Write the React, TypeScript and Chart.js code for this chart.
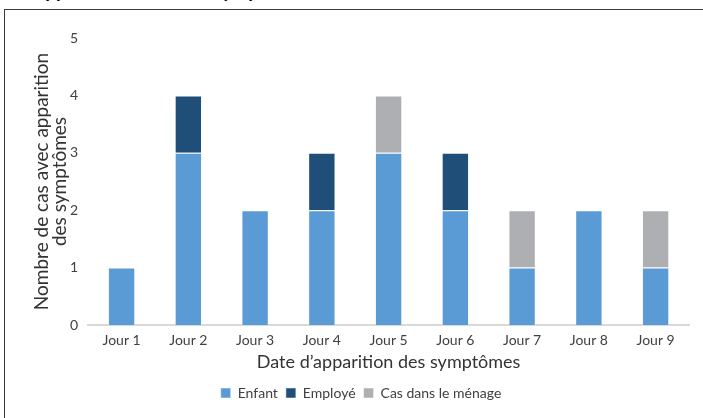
import React, { useEffect, useRef } from "react";
import { Chart, registerables } from "chart.js";

Chart.register(...registerables);

const categories = ["Jour 1", "Jour 2", "Jour 3", "Jour 4", "Jour 5", "Jour 6", "Jour 7", "Jour 8", "Jour 9"];
const enfant = [1, 3, 2, 2, 3, 2, 1, 2, 1];
const employe = [0, 1, 0, 1, 0, 1, 0, 0, 0];
const menage = [0, 0, 0, 0, 1, 0, 1, 0, 1];
const seriesNames = ["Enfant", "Employé", "Cas dans le ménage"];
const yTicks = [0, 1, 2, 3, 4, 5];

const FONT = "Lato, 'Open Sans', sans-serif";

export default function App() {
  const ref = useRef<HTMLCanvasElement | null>(null);

  useEffect(() => {
    if (!ref.current) return;
    const common = { borderColor: "rgba(255,255,255,0.5)", borderWidth: 1, categoryPercentage: 1, barPercentage: 0.41 };
    const chart = new Chart(ref.current, {
      type: "bar",
      data: {
        labels: categories,
        datasets: [
          { label: seriesNames[0], data: enfant, backgroundColor: "#5B9BD5", ...common },
          { label: seriesNames[1], data: employe, backgroundColor: "#1F4E79", ...common },
          { label: seriesNames[2], data: menage, backgroundColor: "#AEAFB2", ...common },
        ],
      },
      options: {
        animation: false,
        responsive: false,
        maintainAspectRatio: false,
        layout: { padding: { left: 33, right: 14, top: 38, bottom: 8 } },
        plugins: {
          legend: {
            position: "bottom",
            labels: {
              boxWidth: 10,
              boxHeight: 10,
              padding: 8,
              color: "#404040",
              font: { family: FONT, size: 14 },
            },
          },
          tooltip: { enabled: false },
        },
        scales: {
          x: {
            stacked: true,
            grid: { display: false, drawTicks: false },
            border: { color: "#d9d9d9", width: 2 },
            ticks: { color: "#404040", font: { family: FONT, size: 14, lineHeight: 1 }, padding: 8 },
            title: {
              display: true,
              text: "Date d’apparition des symptômes",
              color: "#333333",
              font: { family: FONT, size: 18, lineHeight: 1 },
              padding: { top: -2, bottom: 7 },
            },
          },
          y: {
            stacked: true,
            min: 0,
            max: 5,
            afterBuildTicks: (axis: any) => {
              axis.ticks = yTicks.map((v) => ({ value: v }));
            },
            grid: { display: false, drawTicks: false },
            border: { display: false },
            ticks: { color: "#404040", font: { family: FONT, size: 14 }, padding: 10 },
            title: {
              display: true,
              text: ["Nombre de cas avec apparition", "des symptômes"],
              color: "#333333",
              font: { family: FONT, size: 19, lineHeight: 0.95 },
              padding: { top: 0, bottom: -9 },
            },
          },
        },
      },
    });
    return () => chart.destroy();
  }, []);

  return (
    <div style={{ position: "fixed", left: 0, top: 0, width: 703, height: 418, background: "#fff", overflow: "hidden" }}>
      <div style={{ position: "absolute", left: 0, top: 0, width: 703, height: 6, overflow: "hidden" }}>
        <div
          style={{
            position: "absolute",
            left: 32,
            top: -20,
            fontFamily: FONT,
            fontWeight: 700,
            fontSize: 19,
            color: "#000",
            whiteSpace: "nowrap",
            lineHeight: "22px",
          }}
        >
          Apparition des cas et symptômes
        </div>
      </div>
      <div
        style={{
          position: "absolute",
          left: 4,
          top: 9,
          width: 720,
          height: 430,
          borderTop: "1.5px solid #3c3c3c",
          borderLeft: "1.5px solid #3c3c3c",
          boxSizing: "border-box",
        }}
      />
      <canvas ref={ref} width={703} height={418} style={{ position: "absolute", left: 0, top: 0 }} />
    </div>
  );
}
